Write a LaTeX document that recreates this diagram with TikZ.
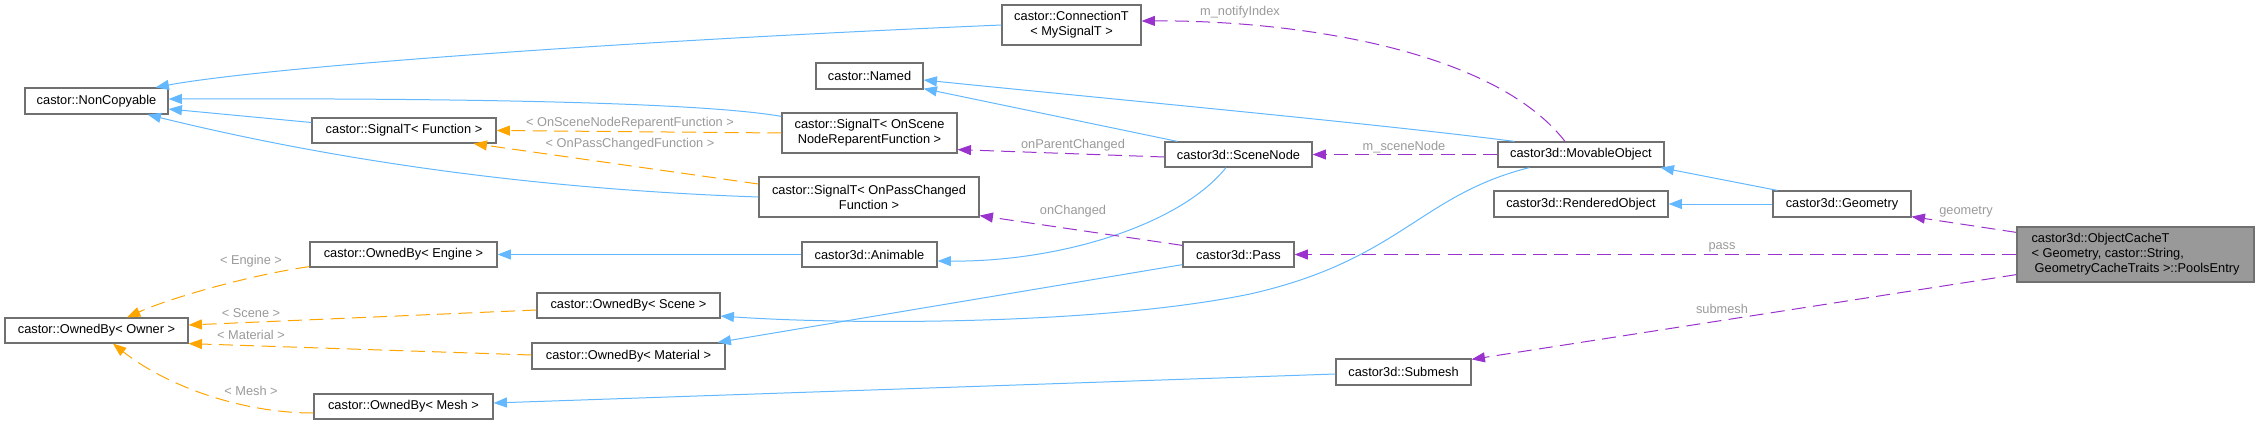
\documentclass[tikz,border=0pt]{standalone}
\usepackage{fontspec}
\setmainfont{Liberation Sans}
\usetikzlibrary{arrows.meta,calc}
\definecolor{eblue}{HTML}{63B8FF}
\definecolor{eorange}{HTML}{FFA500}
\definecolor{epurple}{HTML}{9A32CD}
\definecolor{boxgray}{HTML}{707070}
\definecolor{lgray}{HTML}{9A9A9A}
\definecolor{pefill}{HTML}{999999}
\begin{document}
\begin{tikzpicture}[x=0.75pt,y=-0.75pt,
  box/.style={draw=boxgray, line width=0.9pt, fill=white, inner sep=0pt, align=center,
    font=\fontsize{9.6}{11.25}\selectfont},
  wh/.style 2 args={minimum width=#1*0.75pt, minimum height=#2*0.75pt},
  lbl/.style={text=lgray, font=\fontsize{9.6}{11.25}\selectfont, inner sep=0pt},
  tip/.style={-{Triangle[length=10pt,width=7.5pt]}},
  inh/.style={draw=eblue, line width=0.75pt, tip},
  tmpl/.style={draw=eorange, line width=0.75pt, dash pattern=on 10.5pt off 5.5pt, tip},
  usage/.style={draw=epurple, line width=0.75pt, dash pattern=on 10.5pt off 5.5pt, tip}]
\useasboundingbox (0,0) rectangle (2259,425);

% nodes
\node[box, wh={143}{26}] (nc) at (96.5,101) {castor::NonCopyable};
\node[box, wh={184}{25}] (sf) at (404,130.5) {castor::SignalT< Function >};
\node[box, wh={183}{25}] (oo) at (96.5,330.5) {castor::OwnedBy< Owner >};
\node[box, wh={187}{25}] (oe) at (403.5,254.5) {castor::OwnedBy< Engine >};
\node[box, wh={179}{25}] (om) at (403.5,406.5) {castor::OwnedBy< Mesh >};
\node[box, wh={183}{25}] (os) at (628.5,305.5) {castor::OwnedBy< Scene >};
\node[box, wh={193}{26}] (oma) at (628.5,356) {castor::OwnedBy< Material >};
\node[box, wh={139}{40}] (ct) at (1071.5,25) {castor::ConnectionT\\< MySignalT >};
\node[box, wh={107}{26}] (nm) at (869.5,76) {castor::Named};
\node[box, wh={175}{40}] (sr) at (869.5,133) {castor::SignalT< OnScene\\NodeReparentFunction >};
\node[box, wh={220}{40}] (sp) at (869,197) {castor::SignalT< OnPassChanged\\Function >};
\node[box, wh={135}{25}] (an) at (869.5,254.5) {castor3d::Animable};
\node[box, wh={147}{25}] (sn) at (1238.5,154.5) {castor3d::SceneNode};
\node[box, wh={111}{25}] (ps) at (1238.5,254.5) {castor3d::Pass};
\node[box, wh={135}{26}] (sm) at (1403.5,372) {castor3d::Submesh};
\node[box, wh={166}{25}] (mo) at (1581,154.5) {castor3d::MovableObject};
\node[box, wh={174}{26}] (ro) at (1581,204) {castor3d::RenderedObject};
\node[box, wh={138}{26}] (ge) at (1842,204) {castor3d::Geometry};
\node[box, wh={237}{55}, fill=pefill, align=left] (pe) at (2135.5,254.5)
  {castor3d::ObjectCacheT\\< Geometry, castor::String,\\\hspace{0.25em}GeometryCacheTraits >::PoolsEntry};

% inheritance (blue)
\draw[inh] (ct.west) .. controls (600,42) and (260,68) .. ($(nc.north east)+(-13,0)$);
\draw[inh] ($(sr.north west)+(0,4)$) .. controls (700,102) and (450,98) .. ($(nc.east)+(0,-2)$);
\draw[inh] ($(sf.west)+(0,-8)$) -- ($(nc.east)+(0,8)$);
\draw[inh] (sp.west) .. controls (500,188) and (300,152) .. ($(nc.south east)+(-21,0)$);
\draw[inh] ($(mo.north west)+(17,0)$) .. controls (1380,124) and (1100,98) .. ($(nm.east)+(0,4)$);
\draw[inh] ($(sn.north west)+(13,0)$) -- ($(nm.south east)+(0,-1)$);
\draw[inh] ($(sn.south)+(-12.5,0)$) .. controls (1180,225) and (1060,262) .. ($(an.east)+(0,6.5)$);
\draw[inh] ($(mo.south west)+(32,0)$) .. controls (1420,195) and (1400,260) .. (1250,294)
  .. controls (1100,325) and (850,325) .. ($(os.east)+(0,10.5)$);
\draw[inh] ($(ps.south west)+(0,-3)$) -- ($(oma.north east)+(-8,0)$);
\draw[inh] (an.west) -- (oe.east);
\draw[inh] ($(sm.west)+(0,2)$) -- ($(om.east)+(0,-3.5)$);
\draw[inh] ($(ge.north west)+(5,0)$) -- ($(mo.south east)+(-4,0)$);
\draw[inh] (ge.west) -- (ro.east);

% template instances (orange)
\draw[tmpl] (sr.west) -- (sf.east);
\draw[tmpl] ($(sp.west)+(0,-13)$) -- ($(sf.south east)+(-23,0)$);
\draw[tmpl] ($(os.west)+(0,4.5)$) -- ($(oo.east)+(0,-5.5)$);
\draw[tmpl] ($(oma.west)+(0,-1)$) -- (oo.south east);
\draw[tmpl] ($(oe.south west)+(0,-1)$) .. controls (250,275) and (170,298) .. ($(oo.north)+(30.5,0)$);
\draw[tmpl] ($(om.west)+(0,6.5)$) .. controls (240,413) and (165,385) .. ($(oo.south)+(16.5,0)$);

% usage (purple)
\draw[usage] ($(sn.west)+(0,2.5)$) -- ($(sr.south east)+(0,-4)$);
\draw[usage] ($(ps.north west)+(0,4)$) -- ($(sp.south east)+(0,-2)$);
\draw[usage] (mo.west) -- (sn.east);
\draw[usage] ($(mo.north)+(-16,0)$) .. controls (1490,45) and (1280,20) .. ($(ct.east)+(0,-4)$);
\draw[usage] ($(pe.north west)+(0,6)$) -- ($(ge.south east)+(0,-1)$);
\draw[usage] (pe.west) -- (ps.east);
\draw[usage] ($(pe.south west)+(0,-8)$) -- ($(sm.north east)+(0,1)$);

% edge labels
\node[lbl] (l1) at (630,123) {< OnSceneNodeReparentFunction >};
\node[lbl] (l2) at (630,144) {< OnPassChangedFunction >};
\node[lbl] (l3) at (251,261) {< Engine >};
\node[lbl] (l4) at (251,313) {< Scene >};
\node[lbl] (l5) at (251,335) {< Material >};
\node[lbl] (l6) at (251,391) {< Mesh >};
\node[lbl] (l7) at (1240,12) {m\_notifyIndex};
\node[lbl] (l8) at (1073,145) {onParentChanged};
\node[lbl] (l9) at (1073,211) {onChanged};
\node[lbl] (l10) at (1404,147) {m\_sceneNode};
\node[lbl] (l11) at (1722,247) {pass};
\node[lbl] (l12) at (1722,309) {submesh};
\node[lbl] (l13) at (1966,212) {geometry};
\end{tikzpicture}
\end{document}
